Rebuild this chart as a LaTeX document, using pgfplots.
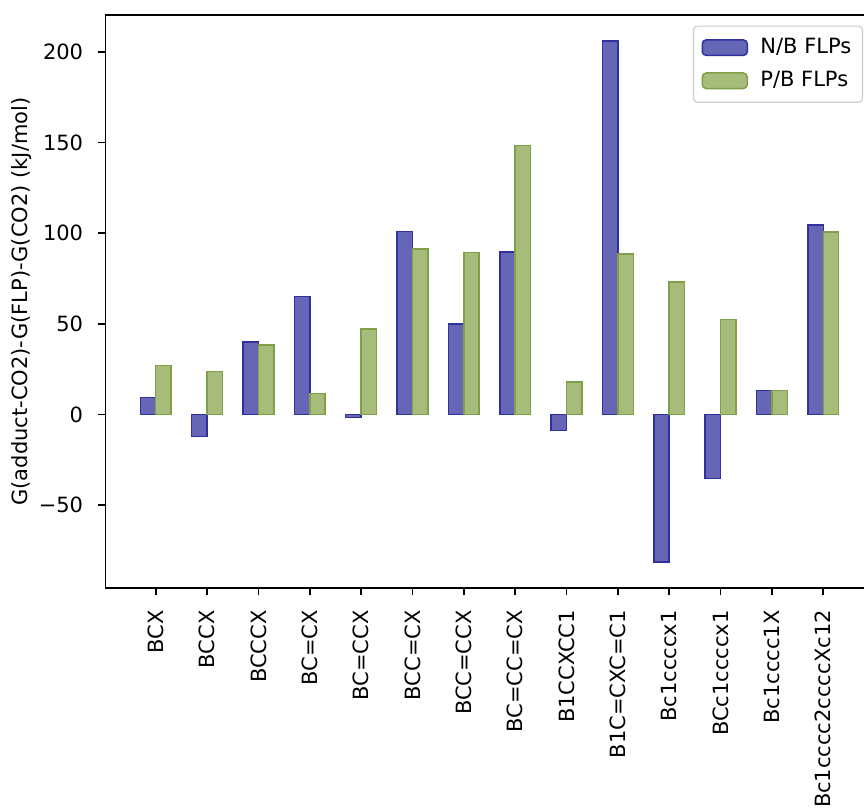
\documentclass[border=0pt]{standalone}
\usepackage{fontspec}
\setmainfont{DejaVu Sans}
\usepackage{pgfplots}
\pgfplotsset{compat=1.18}

\definecolor{nbfill}{RGB}{102,102,183}
\definecolor{nbedge}{RGB}{48,48,158}
\definecolor{pbfill}{RGB}{167,187,122}
\definecolor{pbedge}{RGB}{128,160,72}

\begin{document}
\begin{tikzpicture}
\begin{axis}[
  name=ax,
  scale only axis,
  width=384.1pt, height=286.5pt,
  xmin=-0.98, xmax=13.98,
  ymin=-95.8, ymax=220.4,
  font=\fontsize{10.5}{12.6}\selectfont,
  axis line style={black, line width=0.8pt},
  tick align=outside,
  xtick pos=bottom, ytick pos=left,
  major tick length=3.65pt,
  every tick/.style={black, line width=0.8pt},
  xtick={0,1,2,3,4,5,6,7,8,9,10,11,12,13},
  xticklabels={BCX,BCCX,BCCCX,BC=CX,BC=CCX,BCC=CX,BCC=CCX,BC=CC=CX,B1CCXCC1,B1C=CXC=C1,Bc1ccccx1,BCc1ccccx1,Bc1cccc1X,Bc1cccc2ccccXc12},
  xticklabel style={rotate=90, anchor=east, inner sep=0pt},
  xticklabel shift=7.3pt,
  ytick={-50,0,50,100,150,200},
  yticklabels={−50,0,50,100,150,200},
  yticklabel style={inner sep=0pt},
  yticklabel shift=7.3pt,
  ylabel={G(adduct-CO2)-G(FLP)-G(CO2) (kJ/mol)},
  every axis y label/.style={at={(axis description cs:-0.1086,0.5)}, rotate=90, anchor=center, inner sep=0pt},
  legend style={at={(rel axis cs:1,1)}, anchor=north east, xshift=-5.25pt, yshift=-5.25pt,
    draw=black!20, line width=0.6pt, rounded corners=2pt, fill=white,
    inner xsep=4pt, inner ysep=4.6pt, row sep=4.2pt,
    nodes={inner sep=1.6pt, anchor=west}},
  legend cell align=left,
  legend image code/.code={\draw[#1] (0pt,-3.9pt) rectangle (22.5pt,3.9pt);},
]
% N/B frustrated Lewis pairs
\addplot[ybar, bar width=0.3, bar shift=-0.15, fill=nbfill, draw=nbedge, line width=0.75pt]
  coordinates {(0,9.4) (1,-12.1) (2,39.9) (3,65.0) (4,-1.6) (5,100.9) (6,50.0)
               (7,89.5) (8,-8.8) (9,206.0) (10,-81.4) (11,-35.4) (12,13.1) (13,104.6)};
\addlegendentry{\hspace{4.6pt}N/B FLPs}
% P/B frustrated Lewis pairs
\addplot[ybar, bar width=0.3, bar shift=0.15, fill=pbfill, draw=pbedge, line width=0.75pt]
  coordinates {(0,27.0) (1,23.7) (2,38.2) (3,11.4) (4,47.1) (5,91.3) (6,89.3)
               (7,148.5) (8,17.9) (9,88.4) (10,73.0) (11,52.4) (12,13.1) (13,100.7)};
\addlegendentry{\hspace{4.6pt}P/B FLPs}
\end{axis}
\pgfresetboundingbox
\path[use as bounding box] ([shift={(-52.7pt,-110.5pt)}]ax.south west) rectangle ([shift={(379.3pt,7.5pt)}]ax.north west);
\end{tikzpicture}
\end{document}
